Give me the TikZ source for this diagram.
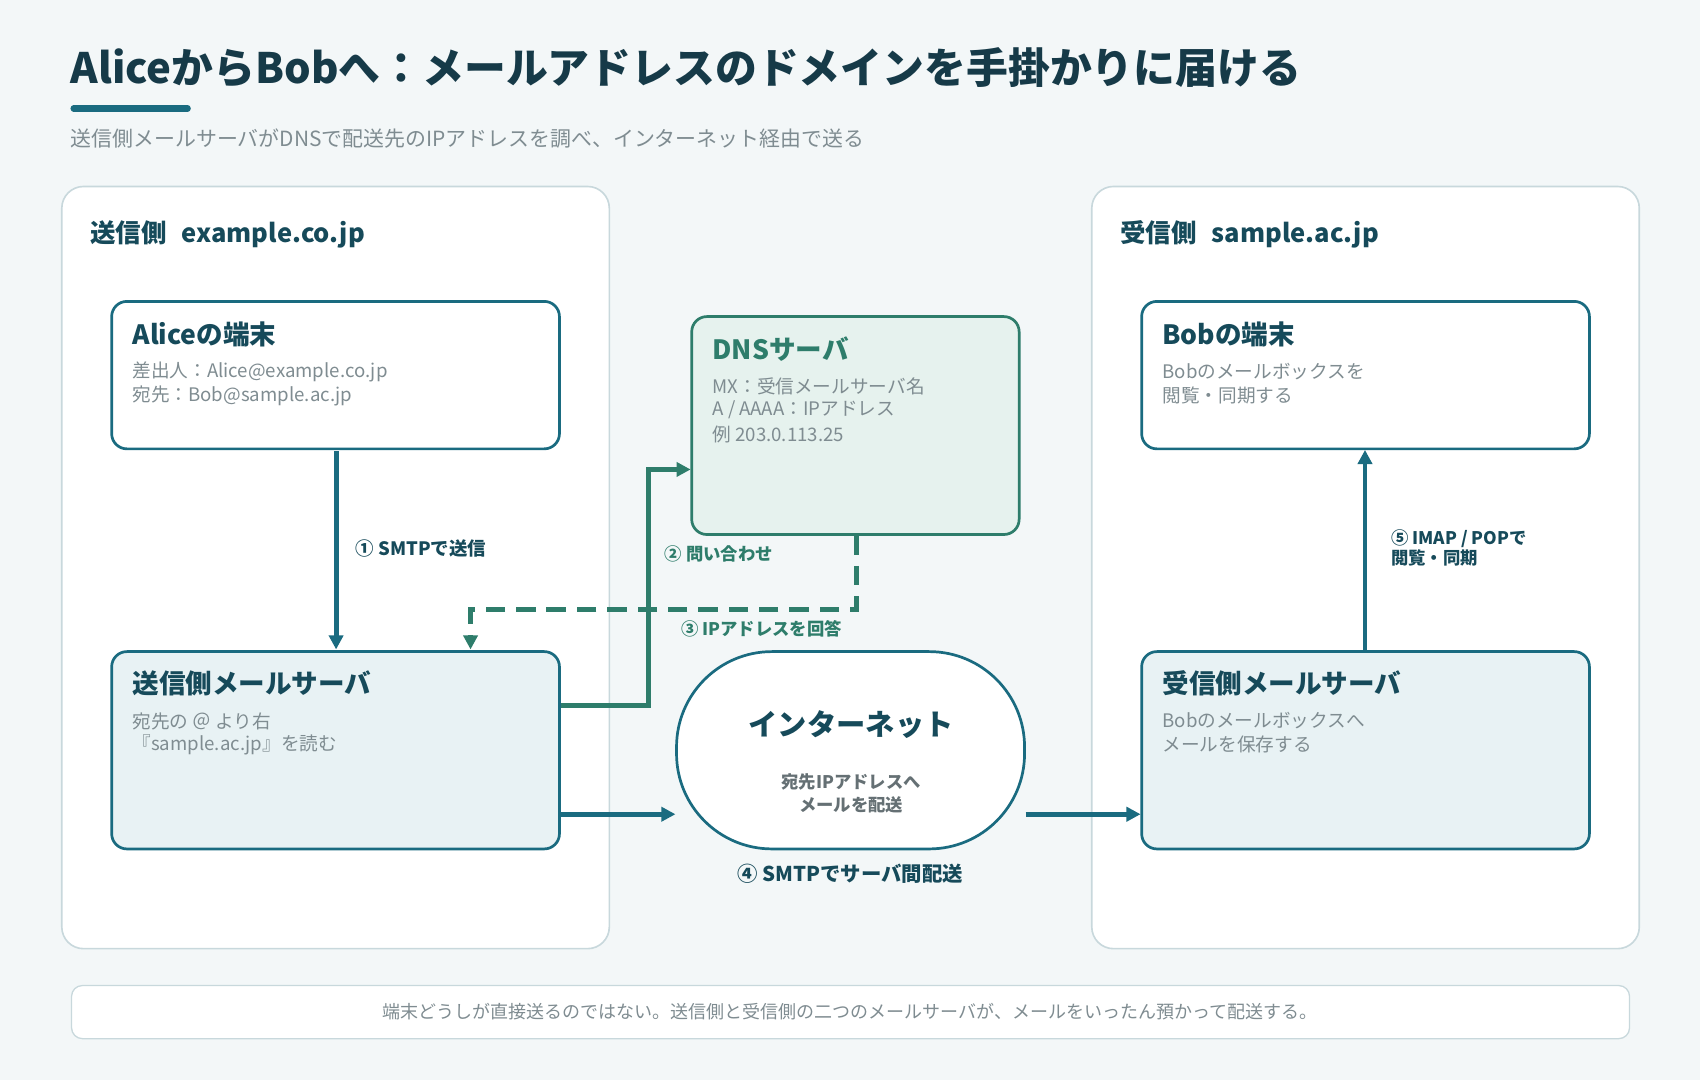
\documentclass[tikz,border=0pt]{standalone}
\usepackage{fontspec}
\setmainfont{Noto Sans CJK JP}
\usetikzlibrary{arrows.meta}
\definecolor{bg}{HTML}{F3F7F8}
\definecolor{ttl}{HTML}{163A48}
\definecolor{teal}{HTML}{1A6B80}
\definecolor{dteal}{HTML}{164A5A}
\definecolor{grn}{HTML}{2E7D6B}
\definecolor{gry}{HTML}{7F8C91}
\definecolor{pane}{HTML}{C8D8DC}
\definecolor{lbx}{HTML}{E8F2F4}
\definecolor{lgr}{HTML}{E6F2EE}
\tikzset{
 panel/.style={draw=pane,line width=1.5pt,fill=white,rounded corners=20pt},
 box/.style={draw=teal,line width=2.5pt,fill=white,rounded corners=14pt},
 hd/.style={anchor=west,font=\fontsize{24.5}{28}\selectfont\bfseries,text=dteal,inner sep=0},
 bd/.style={anchor=west,font=\fontsize{17.2}{20}\selectfont,text=gry,inner sep=0},
 lab/.style={anchor=west,font=\fontsize{17}{20}\selectfont\bfseries,inner sep=0},
 arr/.style={line width=4.5pt,-{Triangle[length=13pt,width=13pt]}},
}
\begin{document}
\begin{tikzpicture}[x=1pt,y=-1pt]
\fill[bg] (0,0) rectangle (1568,996);
\useasboundingbox (0,0) rectangle (1568,996);
\node[anchor=west,inner sep=0,font=\fontsize{38.6}{42}\selectfont\bfseries,text=ttl] (title) at (65,62) {AliceからBobへ：メールアドレスのドメインを手掛かりに届ける};
\draw[teal,line width=6pt,line cap=round] (68,100) -- (173,100);
\node[anchor=west,inner sep=0,font=\fontsize{19.3}{22}\selectfont,text=gry] (sub) at (65,128) {送信側メールサーバがDNSで配送先のIPアドレスを調べ、インターネット経由で送る};
\draw[panel] (57,172) rectangle (562,875);
\draw[panel] (1007,172) rectangle (1512,875);
\node[hd,font=\fontsize{23.5}{28}\selectfont\bfseries] (lp) at (83,216) {送信側\hspace{14pt}example.co.jp};
\node[hd,font=\fontsize{23.5}{28}\selectfont\bfseries] (rp) at (1033,216) {受信側\hspace{14pt}sample.ac.jp};
\draw[box] (103,278) rectangle (516,414);
\node[hd] (at) at (122,308) {Aliceの端末};
\node[bd] at (122,343) {差出人：Alice@example.co.jp};
\node[bd] at (122,365) {宛先：Bob@sample.ac.jp};
\draw[box,fill=lbx] (103,601) rectangle (516,783);
\node[hd] at (122,630) {送信側メールサーバ};
\node[bd] at (122,665) {宛先の ＠ より右};
\node[bd] at (122,687) {『sample.ac.jp』を読む};
\draw[box,draw=grn,fill=lgr] (638,292) rectangle (940,493);
\node[hd,text=grn] at (657,322) {DNSサーバ};
\node[bd] at (657,356) {MX：受信メールサーバ名};
\node[bd] at (657,378) {A / AAAA：IPアドレス};
\node[bd] at (657,401) {例 203.0.113.25};
\draw[box,rounded corners=88pt] (624,601) rectangle (945,783);
\node[font=\fontsize{27}{30}\selectfont\bfseries,text=dteal,inner sep=0] at (785,668) {インターネット};
\node[font=\fontsize{16}{21}\selectfont\bfseries,text=gry!80!black,align=center,inner sep=0] at (785,732) {宛先IPアドレスへ\\メールを配送};
\draw[box] (1053,278) rectangle (1466,414);
\node[hd] at (1072,308) {Bobの端末};
\node[bd] at (1072,343) {Bobのメールボックスを};
\node[bd] at (1072,365) {閲覧・同期する};
\draw[box,fill=lbx] (1053,601) rectangle (1466,783);
\node[hd] at (1072,630) {受信側メールサーバ};
\node[bd] at (1072,665) {Bobのメールボックスへ};
\node[bd] at (1072,687) {メールを保存する};
\draw[arr,teal] (310,416) -- (310,599);
\node[lab,text=dteal] at (328,506) {① SMTPで送信};
\draw[arr,grn] (517,651) -- (598,651) -- (598,433) -- (637,433);
\node[lab,font=\fontsize{16}{20}\selectfont\bfseries,text=grn] at (613,511) {② 問い合わせ};
\draw[arr,grn,dash pattern=on 18pt off 10pt] (790,494) -- (790,562) -- (434,562) -- (434,599);
\node[lab,font=\fontsize{16}{20}\selectfont\bfseries,text=grn] at (628,580) {③ IPアドレスを回答};
\draw[arr,teal] (517,751) -- (623,751);
\draw[arr,teal] (946,751) -- (1052,751);
\node[lab,anchor=center,font=\fontsize{18.8}{22}\selectfont\bfseries,text=dteal] at (784,806) {④ SMTPでサーバ間配送};
\draw[arr,teal] (1259,600) -- (1259,415);
\node[lab,font=\fontsize{16}{20}\selectfont\bfseries,text=dteal] at (1283,497) {⑤ IMAP / POPで};
\node[lab,font=\fontsize{16}{20}\selectfont\bfseries,text=dteal] at (1283,515) {閲覧・同期};
\draw[draw=pane,line width=1.2pt,fill=white,rounded corners=10pt] (66,909) rectangle (1503,958);
\node[font=\fontsize{16.6}{18}\selectfont,text=gry,inner sep=0] at (784,933) {端末どうしが直接送るのではない。送信側と受信側の二つのメールサーバが、メールをいったん預かって配送する。};
\end{tikzpicture}
\end{document}
